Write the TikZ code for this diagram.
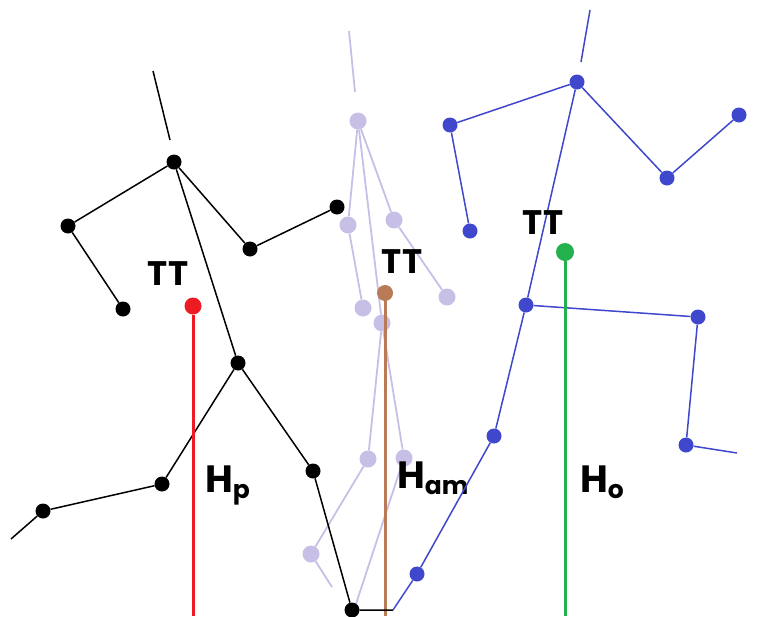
\documentclass[tikz,border=0pt]{standalone}
\usepackage{fontspec}
\newfontfamily\labfont{Poppins}[BoldFont={Poppins Bold}]
\definecolor{jblack}{HTML}{000000}
\definecolor{jblue}{HTML}{3F48CC}
\definecolor{jlav}{HTML}{C8BFE7}
\definecolor{jred}{HTML}{ED1C24}
\definecolor{jbrown}{HTML}{B97A57}
\definecolor{jgreen}{HTML}{22B14C}
\tikzset{
  joint/.style={circle,fill=#1,draw=none,inner sep=0pt,minimum size=15pt},
  bone/.style={draw=#1,line width=1.5pt},
  tip/.style={circle,fill=#1,draw=none,inner sep=0pt,minimum size=17pt},
  hline/.style={draw=#1,line width=3pt},
  tt/.style={font=\labfont\bfseries\fontsize{34}{34}\selectfont,inner sep=0pt},
  hlab/.style={font=\labfont\bfseries\fontsize{38}{38}\selectfont,inner sep=0pt,anchor=base west}
}
\newcommand{\hsub}[1]{H\raisebox{-6pt}{\fontsize{25}{25}\selectfont #1}}
\begin{document}
\begin{tikzpicture}[x=1pt,y=-1pt]
\useasboundingbox (0,0) rectangle (765,616);
% ---------- lavender figure ----------
\coordinate (lhead) at (349,31);
\coordinate (lheadb) at (355,92);
\node[joint=jlav,minimum size=17pt] (lneck) at (358,121) {};
\node[joint=jlav,minimum size=17pt] (lle) at (348,225) {};
\node[joint=jlav,minimum size=17pt] (lre) at (394,220) {};
\node[joint=jlav,minimum size=17pt] (lrh) at (447,297) {};
\node[joint=jlav,minimum size=17pt] (llh) at (363,308) {};
\node[joint=jlav,minimum size=17pt] (lhip) at (382,323) {};
\node[joint=jlav,minimum size=17pt] (llk) at (368,459) {};
\node[joint=jlav,minimum size=17pt] (lrk) at (404,458) {};
\node[joint=jlav,minimum size=17pt] (llf) at (311,554) {};
\coordinate (llfe) at (332,587);
\coordinate (lrfe) at (355,607);
\draw[bone=jlav,line width=1.8pt] (lhead) -- (lheadb);
\draw[bone=jlav,line width=1.8pt] (lneck) -- (lle) -- (llh);
\draw[bone=jlav,line width=1.8pt] (lneck) -- (lre) -- (lrh);
\draw[bone=jlav,line width=1.8pt] (lneck) -- (lhip);
\draw[bone=jlav,line width=1.8pt] (lhip) -- (llk) -- (llf) -- (llfe);
\draw[bone=jlav,line width=1.8pt] (lhip) -- (lrk) -- (lrfe);
% ---------- brown height ----------
\node[tip=jbrown,minimum size=16pt] (bdot) at (385,293) {};
\coordinate (bbot) at (385,616);
\draw[hline=jbrown] (bdot) -- (bbot);
\node[tt] (btt) at (402,262) {TT};
\node[hlab] (bh) at (397,488) {\hsub{am}};
% ---------- black figure ----------
\coordinate (khead) at (153,71);
\coordinate (kheadb) at (170,140);
\node[joint=jblack] (kneck) at (174,162) {};
\node[joint=jblack] (kle) at (68,226) {};
\node[joint=jblack] (klh) at (123,309) {};
\node[joint=jblack] (kre) at (250,249) {};
\node[joint=jblack] (krh) at (337,207) {};
\node[joint=jblack] (khip) at (238,363) {};
\node[joint=jblack] (klk) at (162,484) {};
\node[joint=jblack] (klf) at (43,511) {};
\coordinate (klfe) at (11,539);
\node[joint=jblack] (krk) at (313,471) {};
\node[joint=jblack] (krf) at (352,610) {};
\coordinate (krfe) at (393,610);
\draw[bone=jblack] (khead) -- (kheadb);
\draw[bone=jblack] (kneck) -- (kle) -- (klh);
\draw[bone=jblack] (kneck) -- (kre) -- (krh);
\draw[bone=jblack] (kneck) -- (khip);
\draw[bone=jblack] (khip) -- (klk) -- (klf) -- (klfe);
\draw[bone=jblack] (khip) -- (krk) -- (krf) -- (krfe);
% ---------- blue figure ----------
\coordinate (uhead) at (590,10);
\coordinate (uheadb) at (581,62);
\node[joint=jblue] (uneck) at (577,82) {};
\node[joint=jblue] (ule) at (450,125) {};
\node[joint=jblue] (ulh) at (470,231) {};
\node[joint=jblue] (ure) at (667,178) {};
\node[joint=jblue] (urh) at (739,115) {};
\node[joint=jblue] (uhip) at (526,305) {};
\node[joint=jblue] (urk) at (698,317) {};
\node[joint=jblue] (urf) at (686,445) {};
\coordinate (urfe) at (737,453);
\node[joint=jblue] (ulk) at (494,436) {};
\node[joint=jblue] (ulf) at (417,574) {};
\draw[bone=jblue] (uhead) -- (uheadb);
\draw[bone=jblue] (uneck) -- (ule) -- (ulh);
\draw[bone=jblue] (uneck) -- (ure) -- (urh);
\draw[bone=jblue] (uneck) -- (uhip);
\draw[bone=jblue] (uhip) -- (urk) -- (urf) -- (urfe);
\draw[bone=jblue] (uhip) -- (ulk) -- (ulf) -- (krfe);
% ---------- red height ----------
\node[tip=jred] (rdot) at (193,306) {};
\coordinate (rbot) at (193,616);
\draw[hline=jred] (rdot) -- (rbot);
\node[tt] (rtt) at (168,274) {TT};
\node[hlab] (rh) at (205,492) {\hsub{p}};
% ---------- green height ----------
\node[tip=jgreen,minimum size=18pt] (gdot) at (565,252) {};
\coordinate (gbot) at (565,616);
\draw[hline=jgreen] (gdot) -- (gbot);
\node[tt] (gtt) at (543,223) {TT};
\node[hlab] (gh) at (580,492) {\hsub{o}};
\end{tikzpicture}
\end{document}
